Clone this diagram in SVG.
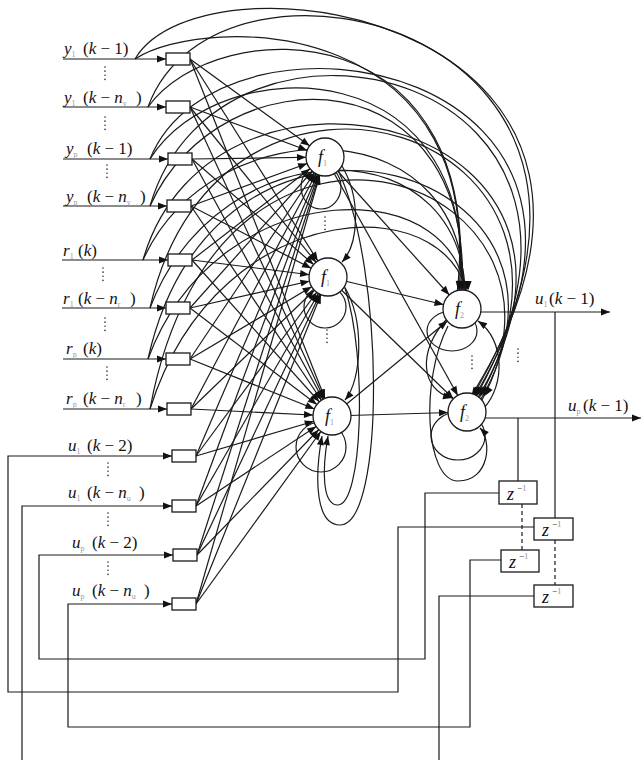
<svg xmlns="http://www.w3.org/2000/svg" width="643" height="760" viewBox="0 0 643 760">
<defs>
<style>
.c{fill:none;stroke:#1a1a1a;stroke-width:1.2}
.n{fill:#fff;stroke:#1a1a1a;stroke-width:1.3}
.t{font-family:"Liberation Serif","Times New Roman",serif;font-size:17px;fill:#111}
.i{font-style:italic}
.s{font-size:8px;fill:#999;font-style:normal}
.z{font-size:18px;font-style:italic}
.e{font-size:9px}
.d{stroke:#333;stroke-width:1.6;stroke-dasharray:0.1 4;stroke-linecap:round;fill:none}
.ds{stroke:#1a1a1a;stroke-width:1.2;stroke-dasharray:4 3;fill:none}
.ah{marker-end:url(#ah)}
.an{marker-end:url(#an)}
</style>
<marker id="ah" markerUnits="userSpaceOnUse" markerWidth="10" markerHeight="10" refX="0" refY="0" orient="auto" style="overflow:visible"><path d="M0,0 L-9,-3.5 L-9,3.5 Z" fill="#111"/></marker>
<marker id="an" markerUnits="userSpaceOnUse" markerWidth="10" markerHeight="10" refX="0" refY="0" orient="auto" style="overflow:visible"><path d="M-19,0 L-28,-3.5 L-28,3.5 Z" fill="#111"/></marker>
</defs>
<rect width="643" height="760" fill="#fff"/>
<g id="connectors">
<!-- input lines -->
<path class="c ah" d="M63,59 H166"/>
<path class="c ah" d="M63,107 H166"/>
<path class="c ah" d="M63,159 H168"/>
<path class="c ah" d="M63,206 H167"/>
<path class="c ah" d="M62,260 H168"/>
<path class="c ah" d="M62,308 H166"/>
<path class="c ah" d="M63,359 H166"/>
<path class="c ah" d="M63,409 H167"/>
<!-- input arcs to upper f2 -->
<path class="c an" d="M135,59 C205,13 500,13 455,309"/>
<path class="c an" d="M148,107 C218,10 495,10 457,309"/>
<path class="c an" d="M150,159 C220,47 490,47 459,309"/>
<path class="c an" d="M150,206 C220,50 485,50 461,309"/>
<path class="c an" d="M143,260 C213,105 480,105 463,309"/>
<path class="c an" d="M150,308 C220,124 475,124 465,309"/>
<path class="c an" d="M148,359 C218,169 470,169 467,309"/>
<path class="c an" d="M150,409 C220,187 465,187 469,309"/>
<!-- input arcs to lower f2 -->
<path class="c an" d="M135,59 C205,-60 720,20 461,412"/>
<path class="c an" d="M148,107 C218,-85 705,30 463,412"/>
<path class="c an" d="M150,159 C220,-16 690,60 465,412"/>
<path class="c an" d="M150,206 C220,-34 675,70 467,412"/>
<path class="c an" d="M143,260 C213,16 660,120 469,412"/>
<path class="c an" d="M150,308 C220,-3 645,130 471,412"/>
<path class="c an" d="M148,359 C218,42 630,170 473,412"/>
<path class="c an" d="M150,409 C220,31 615,185 475,412"/>
<!-- boxes to f1 nodes -->
<path class="c an" d="M190,59 L325,157"/><path class="c an" d="M190,59 L328,277"/><path class="c an" d="M190,59 L332,416"/>
<path class="c an" d="M190,107 L325,157"/><path class="c an" d="M190,107 L328,277"/><path class="c an" d="M190,107 L332,416"/>
<path class="c an" d="M192,159 L325,157"/><path class="c an" d="M192,159 L328,277"/><path class="c an" d="M192,159 L332,416"/>
<path class="c an" d="M191,206 L325,157"/><path class="c an" d="M191,206 L328,277"/><path class="c an" d="M191,206 L332,416"/>
<path class="c an" d="M192,260 L325,157"/><path class="c an" d="M192,260 L328,277"/><path class="c an" d="M192,260 L332,416"/>
<path class="c an" d="M190,308 L325,157"/><path class="c an" d="M190,308 L328,277"/><path class="c an" d="M190,308 L332,416"/>
<path class="c an" d="M190,359 L325,157"/><path class="c an" d="M190,359 L328,277"/><path class="c an" d="M190,359 L332,416"/>
<path class="c an" d="M191,409 L325,157"/><path class="c an" d="M191,409 L328,277"/><path class="c an" d="M191,409 L332,416"/>
<path class="c an" d="M196,456 L325,157"/><path class="c an" d="M196,456 L328,277"/><path class="c an" d="M196,456 L332,416"/>
<path class="c an" d="M196,506 L325,157"/><path class="c an" d="M196,506 L328,277"/><path class="c an" d="M196,506 L332,416"/>
<path class="c an" d="M197,555 L325,157"/><path class="c an" d="M197,555 L328,277"/><path class="c an" d="M197,555 L332,416"/>
<path class="c an" d="M196,604 L325,157"/><path class="c an" d="M196,604 L328,277"/><path class="c an" d="M196,604 L332,416"/>
<!-- f1 to f2 -->
<path class="c an" d="M325,157 L462,309"/><path class="c an" d="M325,157 L467,412"/>
<path class="c an" d="M328,277 L462,309"/><path class="c an" d="M328,277 L467,412"/>
<path class="c an" d="M332,416 L462,309"/><path class="c an" d="M332,416 L467,412"/>
<!-- f1 loops -->
<ellipse class="c" cx="321" cy="187" rx="20" ry="22"/>
<ellipse class="c" cx="325" cy="307" rx="21" ry="21"/>
<ellipse class="c" cx="321" cy="447" rx="25" ry="25"/>
<path class="c ah" d="M338,170 C385,270 385,525 340,525 C316,525 314,480 322,436"/>
<path class="c ah" d="M345,288 C368,360 362,505 338,505 C322,505 322,470 328,436"/>
<path class="c ah" d="M342,166 C362,200 358,245 342,262"/>
<path class="c ah" d="M344,286 C365,320 362,380 345,400"/>
<!-- f2 loops -->
<ellipse class="c" cx="452" cy="331" rx="25" ry="20"/>
<ellipse class="c" cx="458" cy="436" rx="27" ry="24"/>
<path class="c ah" d="M446,320 C418,350 420,390 452,398"/>
<path class="c ah" d="M484,408 C505,385 505,340 478,321"/>
<path class="c ah" d="M448,326 C420,380 425,481 458,481 C490,481 492,440 480,428"/>
<!-- outputs -->
<path class="c ah" d="M481,312 H610"/>
<path class="c ah" d="M485,418 H641"/>
<path class="c" d="M555,312 V518"/>
<path class="c" d="M518,418 V481"/>
<path class="ds" d="M522,504 V550"/>
<path class="ds" d="M555,540 V585"/>
<!-- feedback -->
<path class="c ah" d="M534,527 H398 V692 H8 V456 H172"/>
<path class="c" d="M534,596 H439 V760"/>
<path class="c ah" d="M22,760 V506 H172"/>
<path class="c ah" d="M499,493 H425 V659 H39 V555 H173"/>
<path class="c ah" d="M501,560 H470 V727 H68 V604 H172"/>
</g>
<g id="dots">
<line class="d" x1="105" y1="67" x2="105" y2="83"/>
<line class="d" x1="105" y1="117" x2="105" y2="133"/>
<line class="d" x1="107" y1="165" x2="107" y2="181"/>
<line class="d" x1="103" y1="268" x2="103" y2="284"/>
<line class="d" x1="105" y1="318" x2="105" y2="334"/>
<line class="d" x1="107" y1="367" x2="107" y2="383"/>
<line class="d" x1="108" y1="463" x2="108" y2="479"/>
<line class="d" x1="108" y1="513" x2="108" y2="529"/>
<line class="d" x1="108" y1="562" x2="108" y2="578"/>
<line class="d" x1="325" y1="217" x2="325" y2="233"/>
<line class="d" x1="327" y1="330" x2="327" y2="346"/>
<line class="d" x1="472" y1="356" x2="472" y2="372"/>
<line class="d" x1="518" y1="349" x2="518" y2="365"/>
</g>
<g id="in_y1_k1"><rect class="n" x="166" y="53" width="24" height="12"/><text class="t" y="54"><tspan x="64" class="i">y</tspan><tspan class="s" dy="3">1</tspan><tspan x="83" dy="-3">(<tspan class="i">k</tspan> − 1)</tspan></text></g>
<g id="in_y1_kn"><rect class="n" x="166" y="101" width="24" height="12"/><text class="t" y="103"><tspan x="64" class="i">y</tspan><tspan class="s" dy="3">1</tspan><tspan x="83" dy="-3">(<tspan class="i">k</tspan> − <tspan class="i">n</tspan></tspan><tspan class="s" dy="3">y</tspan><tspan x="136" dy="-3">)</tspan></text></g>
<g id="in_yp_k1"><rect class="n" x="168" y="153" width="24" height="12"/><text class="t" y="154"><tspan x="66" class="i">y</tspan><tspan class="s" dy="3">p</tspan><tspan x="87" dy="-3">(<tspan class="i">k</tspan> − 1)</tspan></text></g>
<g id="in_yp_kn"><rect class="n" x="167" y="200" width="24" height="12"/><text class="t" y="202"><tspan x="66" class="i">y</tspan><tspan class="s" dy="3">p</tspan><tspan x="87" dy="-3">(<tspan class="i">k</tspan> − <tspan class="i">n</tspan></tspan><tspan class="s" dy="3">y</tspan><tspan x="140" dy="-3">)</tspan></text></g>
<g id="in_r1_k"><rect class="n" x="168" y="254" width="24" height="12"/><text class="t" y="256"><tspan x="63" class="i">r</tspan><tspan class="s" dy="3">1</tspan><tspan x="78" dy="-3">(<tspan class="i">k</tspan>)</tspan></text></g>
<g id="in_r1_kn"><rect class="n" x="166" y="302" width="24" height="12"/><text class="t" y="304"><tspan x="63" class="i">r</tspan><tspan class="s" dy="3">1</tspan><tspan x="78" dy="-3">(<tspan class="i">k</tspan> − <tspan class="i">n</tspan></tspan><tspan class="s" dy="3">r</tspan><tspan x="130" dy="-3">)</tspan></text></g>
<g id="in_rp_k"><rect class="n" x="166" y="353" width="24" height="12"/><text class="t" y="354"><tspan x="66" class="i">r</tspan><tspan class="s" dy="3">p</tspan><tspan x="83" dy="-3">(<tspan class="i">k</tspan>)</tspan></text></g>
<g id="in_rp_kn"><rect class="n" x="167" y="403" width="24" height="12"/><text class="t" y="404"><tspan x="66" class="i">r</tspan><tspan class="s" dy="3">p</tspan><tspan x="83" dy="-3">(<tspan class="i">k</tspan> − <tspan class="i">n</tspan></tspan><tspan class="s" dy="3">r</tspan><tspan x="136" dy="-3">)</tspan></text></g>
<g id="in_u1_k2"><rect class="n" x="172" y="450" width="24" height="12"/><text class="t" y="451"><tspan x="68" class="i">u</tspan><tspan class="s" dy="3">1</tspan><tspan x="87" dy="-3">(<tspan class="i">k</tspan> − 2)</tspan></text></g>
<g id="in_u1_kn"><rect class="n" x="172" y="500" width="24" height="12"/><text class="t" y="498"><tspan x="68" class="i">u</tspan><tspan class="s" dy="3">1</tspan><tspan x="87" dy="-3">(<tspan class="i">k</tspan> − <tspan class="i">n</tspan></tspan><tspan class="s" dy="3">u</tspan><tspan x="139" dy="-3">)</tspan></text></g>
<g id="in_up_k2"><rect class="n" x="173" y="549" width="24" height="12"/><text class="t" y="548"><tspan x="72" class="i">u</tspan><tspan class="s" dy="3">p</tspan><tspan x="92" dy="-3">(<tspan class="i">k</tspan> − 2)</tspan></text></g>
<g id="in_up_kn"><rect class="n" x="172" y="598" width="24" height="12"/><text class="t" y="596"><tspan x="72" class="i">u</tspan><tspan class="s" dy="3">p</tspan><tspan x="92" dy="-3">(<tspan class="i">k</tspan> − <tspan class="i">n</tspan></tspan><tspan class="s" dy="3">u</tspan><tspan x="144" dy="-3">)</tspan></text></g>
<g id="f1_a"><circle class="n" cx="325" cy="157" r="19"/><text class="t" y="163"><tspan x="318" class="i" font-size="18">f</tspan><tspan class="s" dy="3">1</tspan></text></g>
<g id="f1_b"><circle class="n" cx="328" cy="277" r="19"/><text class="t" y="283"><tspan x="321" class="i" font-size="18">f</tspan><tspan class="s" dy="3">1</tspan></text></g>
<g id="f1_c"><circle class="n" cx="332" cy="416" r="19"/><text class="t" y="422"><tspan x="325" class="i" font-size="18">f</tspan><tspan class="s" dy="3">1</tspan></text></g>
<g id="f2_a"><circle class="n" cx="462" cy="309" r="19"/><text class="t" y="315"><tspan x="455" class="i" font-size="18">f</tspan><tspan class="s" dy="3">2</tspan></text></g>
<g id="f2_b"><circle class="n" cx="467" cy="412" r="19"/><text class="t" y="418"><tspan x="460" class="i" font-size="18">f</tspan><tspan class="s" dy="3">2</tspan></text></g>
<g id="out_u1"><text class="t" y="304"><tspan x="535" class="i">u</tspan><tspan class="s" dy="3">1</tspan><tspan x="549" dy="-3">(<tspan class="i">k</tspan> − 1)</tspan></text></g>
<g id="out_up"><text class="t" y="411"><tspan x="568" class="i">u</tspan><tspan class="s" dy="3">p</tspan><tspan x="583" dy="-3">(<tspan class="i">k</tspan> − 1)</tspan></text></g>
<g id="z1"><rect class="n" x="499" y="481" width="38" height="23"/><text class="t" y="500"><tspan x="507" class="z">z</tspan><tspan x="517" dy="-9" class="e">−<tspan fill="#999">1</tspan></tspan></text></g>
<g id="z2"><rect class="n" x="534" y="518" width="39" height="22"/><text class="t" y="536"><tspan x="542" class="z">z</tspan><tspan x="552" dy="-9" class="e">−<tspan fill="#999">1</tspan></tspan></text></g>
<g id="z3"><rect class="n" x="501" y="550" width="38" height="22"/><text class="t" y="568"><tspan x="509" class="z">z</tspan><tspan x="519" dy="-9" class="e">−<tspan fill="#999">1</tspan></tspan></text></g>
<g id="z4"><rect class="n" x="534" y="585" width="39" height="22"/><text class="t" y="603"><tspan x="542" class="z">z</tspan><tspan x="552" dy="-9" class="e">−<tspan fill="#999">1</tspan></tspan></text></g>
</svg>
